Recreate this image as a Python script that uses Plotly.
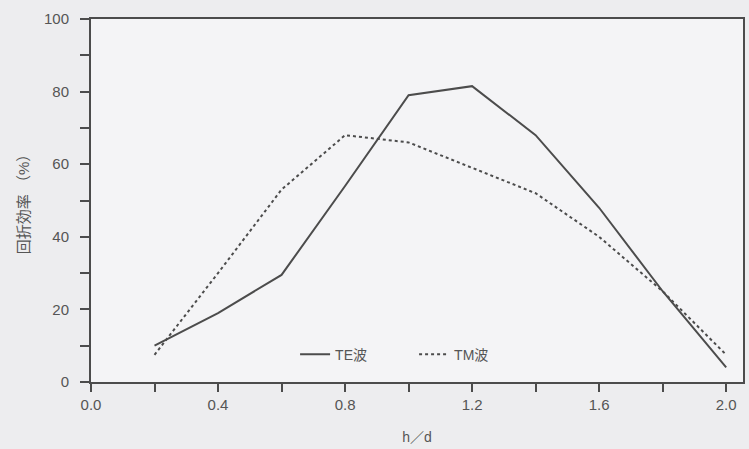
import plotly.graph_objects as go

x_vals = [0.2, 0.4, 0.6, 0.8, 1.0, 1.2, 1.4, 1.6, 1.8, 2.0]
te_vals = [10, 19, 29.5, 54, 79, 81.5, 68, 48, 25, 4]
tm_vals = [7.5, 30, 53, 68, 66, 59, 52, 40, 25, 7.5]
x_ticks = [0.0, 0.4, 0.8, 1.2, 1.6, 2.0]
x_tick_text = ["0.0", "0.4", "0.8", "1.2", "1.6", "2.0"]
y_ticks = [0, 20, 40, 60, 80, 100]

line_col = "#4c4c4c"
text_col = "#555555"
font_fam = "Liberation Sans, Arial, Noto Sans CJK JP"

fig = go.Figure()
fig.add_trace(go.Scatter(x=x_vals, y=te_vals, mode="lines", name="TE波",
                         line=dict(color=line_col, width=2)))
fig.add_trace(go.Scatter(x=x_vals, y=tm_vals, mode="lines", name="TM波",
                         line=dict(color=line_col, width=2, dash="dot")))

fig.update_layout(
    width=749, height=449,
    margin=dict(l=91, r=4, t=19, b=67),
    paper_bgcolor="#ededef",
    plot_bgcolor="#f4f4f6",
    font=dict(family=font_fam, size=14, color=text_col),
    showlegend=True,
    legend=dict(orientation="h", x=0.313, y=0.075, xanchor="left", yanchor="middle",
                bgcolor="rgba(0,0,0,0)", font=dict(size=14, color=text_col),
                entrywidth=74, entrywidthmode="pixels"),
)
fig.update_xaxes(
    range=[0, 2.053], tickvals=x_ticks, ticktext=x_tick_text,
    tickfont=dict(size=15),
    ticks="outside", ticklen=8, tickcolor=line_col, tickwidth=1.5,
    minor=dict(dtick=0.2, tick0=0, ticks="outside", ticklen=8, tickcolor=line_col, tickwidth=1.5),
    showline=True, linecolor=line_col, linewidth=2, mirror=True,
    showgrid=False, zeroline=False,
    title=dict(text="h／d", standoff=20, font=dict(size=14, color=text_col)),
)
fig.update_yaxes(
    range=[0, 100], tickvals=y_ticks,
    tickfont=dict(size=15), ticklabelstandoff=8,
    ticks="outside", ticklen=9, tickcolor=line_col, tickwidth=1.5,
    minor=dict(dtick=10, tick0=0, ticks="outside", ticklen=9, tickcolor=line_col, tickwidth=1.5),
    showline=True, linecolor=line_col, linewidth=2, mirror=True,
    showgrid=False, zeroline=False,
    title=dict(text="回折効率 （%）", standoff=11, font=dict(size=15, color=text_col)),
)

fig.write_html("out.html")
